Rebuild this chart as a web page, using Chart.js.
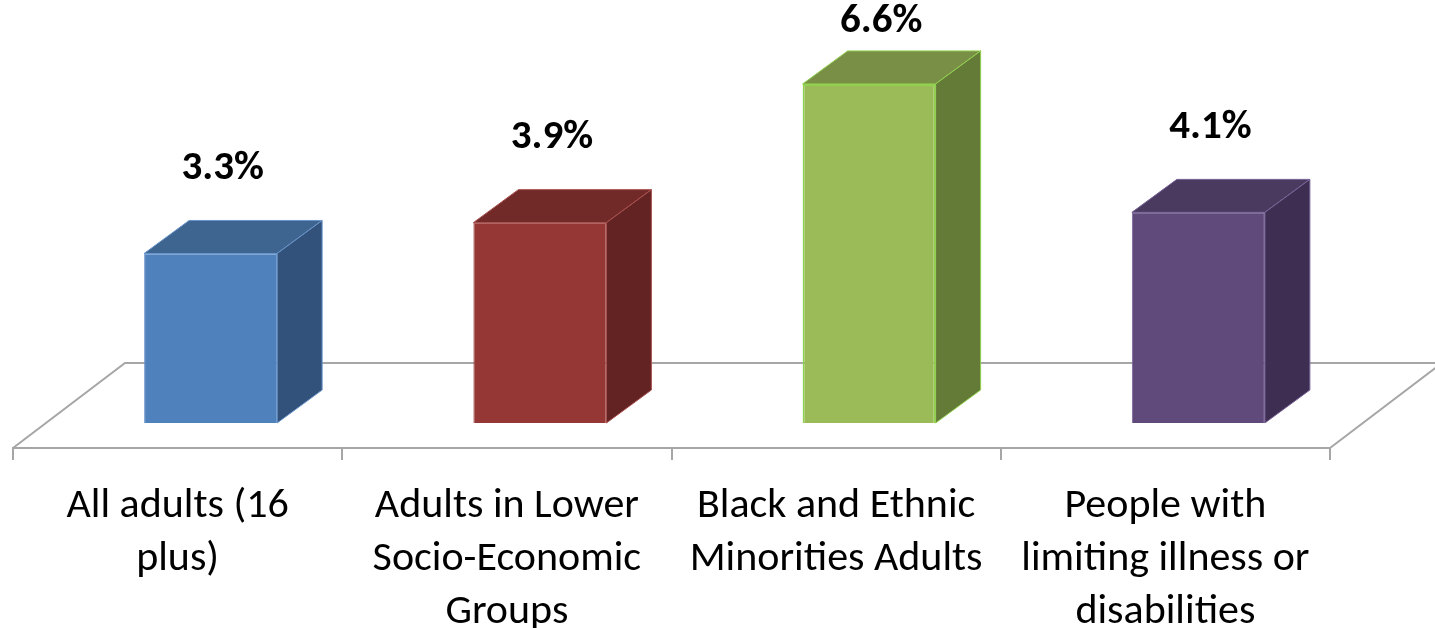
<!DOCTYPE html>
<html>
<head>
<meta charset="utf-8">
<script src="https://cdn.jsdelivr.net/npm/chart.js@4.4.1/dist/chart.umd.min.js"></script>
<style>
  html, body { margin: 0; padding: 0; background: #fff; }
</style>
</head>
<body>
<canvas id="chart" width="1435" height="628"></canvas>
<script>
// Chart data
const categories = [
    ['All adults (16', 'plus)'],
    ['Adults in Lower', 'Socio-Economic', 'Groups'],
    ['Black and Ethnic', 'Minorities Adults'],
    ['People with', 'limiting illness or', 'disabilities']
];
const values = [3.3, 3.9, 6.6, 4.1];

// Face colours for each bar (front / top / side / edge)
const frontColors = ['#4f81bd', '#953735', '#9bbb59', '#604a7b'];
const topColors = ['#3d6590', '#722a28', '#788f45', '#4a3a5f'];
const sideColors = ['#32527b', '#632322', '#647a37', '#3e2f52'];
const edgeColors = ['#6a95cb', '#a8504e', '#92d050', '#7a659a'];

const FONT = 'Carlito, Calibri, Lato, sans-serif';

// oblique projection of the 3d box
const FLOOR_DX = 112, FLOOR_DY = 85;   // depth of the floor
const BAR_OFF_X = 33, BAR_OFF_Y = 25;  // front of the bars inside the floor
const DEPTH_X = 45, DEPTH_Y = 33;      // depth of each bar

function poly(ctx, pts, fill, stroke) {
    ctx.beginPath();
    ctx.moveTo(pts[0][0], pts[0][1]);
    for (let i = 1; i < pts.length; i++) ctx.lineTo(pts[i][0], pts[i][1]);
    ctx.closePath();
    ctx.fillStyle = fill;
    ctx.fill();
    if (stroke) {
        ctx.strokeStyle = stroke;
        ctx.lineWidth = 1;
        ctx.stroke();
    }
}

const box3d = {
    id: 'box3d',
    beforeDatasetsDraw(chart) {
        const ctx = chart.ctx;
        const a = chart.chartArea;
        // floor (front edge is the x axis line)
        ctx.save();
        ctx.strokeStyle = '#a6a6a6';
        ctx.lineWidth = 2;
        ctx.beginPath();
        ctx.moveTo(a.left, a.bottom);
        ctx.lineTo(a.left + FLOOR_DX, a.bottom - FLOOR_DY);
        ctx.lineTo(a.right + FLOOR_DX, a.bottom - FLOOR_DY);
        ctx.lineTo(a.right, a.bottom);
        ctx.stroke();
        ctx.restore();
        // push the front faces back into the floor
        ctx.save();
        ctx.translate(BAR_OFF_X, -BAR_OFF_Y);
    },
    afterDatasetsDraw(chart) {
        const ctx = chart.ctx;
        ctx.restore();
        ctx.save();
        chart.getDatasetMeta(0).data.forEach((bar, i) => {
            const l = bar.x - bar.width / 2 + BAR_OFF_X;
            const r = bar.x + bar.width / 2 + BAR_OFF_X;
            const t = bar.y - BAR_OFF_Y;
            const b = bar.base - BAR_OFF_Y;
            // top face
            poly(ctx, [[l, t], [l + DEPTH_X, t - DEPTH_Y], [r + DEPTH_X, t - DEPTH_Y], [r, t]], topColors[i], edgeColors[i]);
            // side face
            poly(ctx, [[r, t], [r + DEPTH_X, t - DEPTH_Y], [r + DEPTH_X, b - DEPTH_Y], [r, b]], sideColors[i], edgeColors[i]);

            // value label
            ctx.fillStyle = '#000';
            ctx.font = 'bold 41px ' + FONT;
            ctx.textAlign = 'center';
            ctx.textBaseline = 'middle';
            let ly = Math.max(t - DEPTH_Y - 52, 22);
            ctx.fillText(values[i].toFixed(1) + '%', (l + r) / 2 + 12, ly);
        });
        ctx.restore();
    }
};

const ctx = document.getElementById('chart').getContext('2d');
const chart = new Chart(ctx, {
    type: 'bar',
    data: {
        labels: categories,
        datasets: [{
            data: values,
            backgroundColor: frontColors,
            borderColor: edgeColors,
            borderWidth: [1, 1, 2, 1],
            barPercentage: 0.404,
            categoryPercentage: 1.0
        }]
    },
    options: {
        responsive: false,
        animation: false,
        layout: {
            padding: { left: 13, right: 105, top: 37, bottom: 0 }
        },
        plugins: {
            legend: { display: false },
            tooltip: { enabled: false }
        },
        scales: {
            x: {
                grid: {
                    offset: true,
                    drawOnChartArea: false,
                    tickLength: 12,
                    color: '#a6a6a6',
                    lineWidth: 2
                },
                border: { color: '#a6a6a6', width: 2 },
                ticks: {
                    color: '#000',
                    font: { family: FONT, size: 42, lineHeight: 1.26 },
                    padding: 20,
                    maxRotation: 0,
                    autoSkip: false
                },
                afterFit(scale) {
                    scale.height = 180;
                }
            },
            y: {
                display: false,
                min: 0,
                max: 8
            }
        }
    },
    plugins: [box3d]
});
</script>
</body>
</html>
